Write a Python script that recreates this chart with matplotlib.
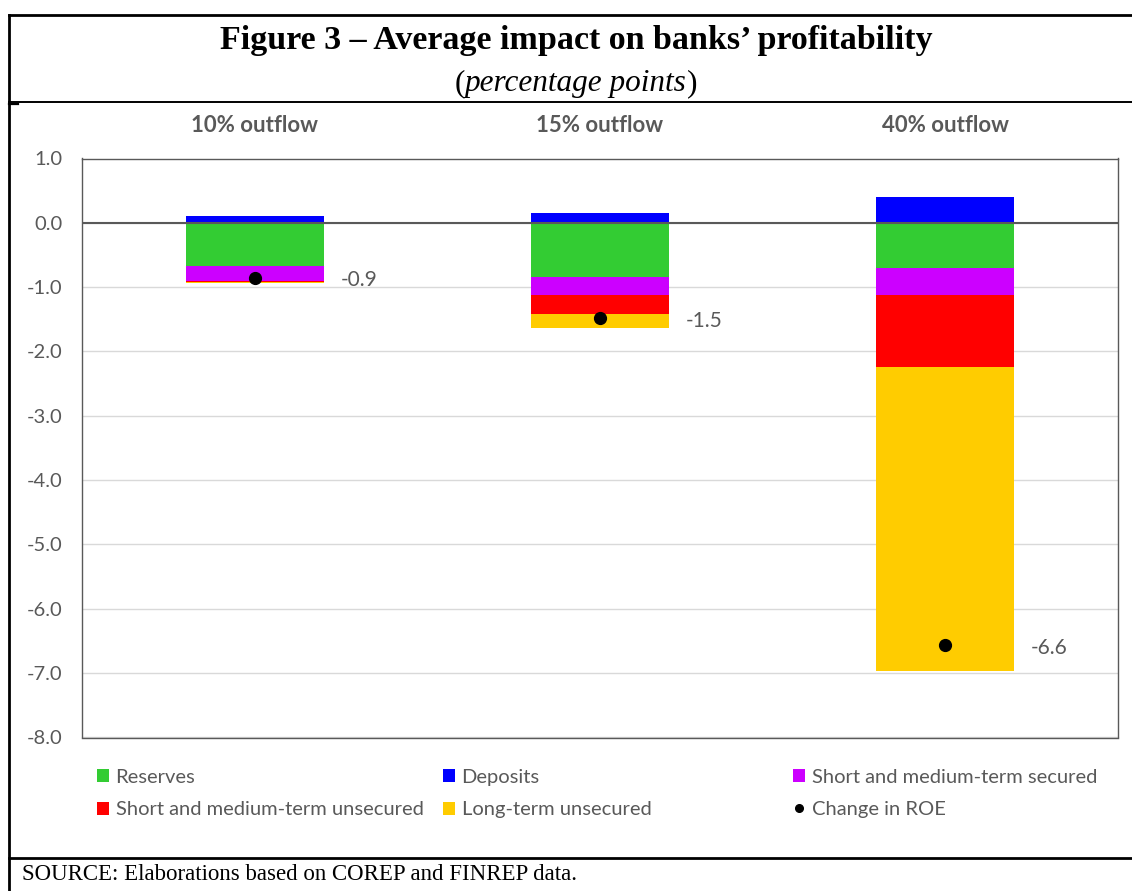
import numpy as np
import matplotlib
matplotlib.use("Agg")
from matplotlib import pyplot as plt
from matplotlib.lines import Line2D

# Data (percentage points)
scenarios = ["10% outflow", "15% outflow", "40% outflow"]
reserves = [-0.67, -0.84, -0.70]
deposits = [0.10, 0.15, 0.40]
sm_secured = [-0.23, -0.28, -0.42]
sm_unsecured = [-0.02, -0.30, -1.12]
lt_unsecured = [-0.02, -0.21, -4.72]
roe_change = [-0.85, -1.48, -6.56]
roe_labels = ["-0.9", "-1.5", "-6.6"]

y_ticks = np.arange(-8.0, 1.01, 1.0)

# Styling
W, H = 1132, 891
grey = "#595959"
sans = ["Lato", "DejaVu Sans"]
serif = ["Liberation Serif", "DejaVu Serif"]
colors = {
    "Reserves": "#33CC33",
    "Deposits": "#0000FF",
    "Short and medium-term secured": "#CC00FF",
    "Short and medium-term unsecured": "#FF0000",
    "Long-term unsecured": "#FFCC00",
}


def fx(px):
    return px / W


def fy(py):
    return 1 - py / H


fig = plt.figure(figsize=(W / 100, H / 100), dpi=100)
ax = fig.add_axes([fx(82), fy(737.5), fx(1118) - fx(82), fy(158.5) - fy(737.5)])

x = np.arange(len(scenarios))
bar_w = 0.40

# Positive part (deposits) on top of zero
h_dep = ax.bar(x, deposits, bar_w, color=colors["Deposits"], zorder=2)

# Negative parts stacked downward from zero
bottom = np.zeros(len(scenarios))
handles = {"Deposits": h_dep}
for name, vals in [("Reserves", reserves),
                   ("Short and medium-term secured", sm_secured),
                   ("Short and medium-term unsecured", sm_unsecured),
                   ("Long-term unsecured", lt_unsecured)]:
    vals = np.array(vals)
    handles[name] = ax.bar(x, vals, bar_w, bottom=bottom, color=colors[name], zorder=2)
    bottom = bottom + vals

roe_dots, = ax.plot(x, roe_change, "o", color="black", markersize=8.5, zorder=4, linestyle="none")

# value labels next to each bar
for xi, v, lab in zip(x, roe_change, roe_labels):
    ax.annotate(lab, xy=(xi + bar_w / 2, v), xytext=(12, -2), textcoords="offset points",
                ha="left", va="center", fontsize=15, color=grey, family=sans)

# axes formatting
ax.set_xlim(-0.5, len(scenarios) - 0.5)
ax.set_ylim(-8.0, 1.0)
ax.set_yticks(y_ticks)
ax.set_yticklabels([f"{t:.1f}" for t in y_ticks], fontsize=14.5, color=grey, family=sans)
ax.tick_params(axis="y", length=0, pad=14)
ax.set_xticks([])
ax.grid(axis="y", color="#D9D9D9", linewidth=1, zorder=0)
ax.axhline(0, color=grey, linewidth=1.5, zorder=3)
for sp in ax.spines.values():
    sp.set_color(grey)
    sp.set_linewidth(1.0)

# category labels in the header area (y = 125 px)
label_y = 1.0 + (158.5 - 125.5) / (737.5 - 158.5) * 9.0
for xi, name in zip(x, scenarios):
    ax.text(xi, label_y, name, ha="center", va="center", fontsize=16, fontweight="bold",
            color=grey, family=sans, clip_on=False)

# legend, three columns placed separately
leg_cols = [
    [("Reserves", handles["Reserves"]), ("Short and medium-term unsecured", handles["Short and medium-term unsecured"])],
    [("Deposits", handles["Deposits"]), ("Long-term unsecured", handles["Long-term unsecured"])],
    [("Short and medium-term secured", handles["Short and medium-term secured"]), ("Change in ROE", roe_dots)],
]
roe_handle = Line2D([], [], marker="o", color="black", linestyle="none", markersize=5.5)
for col, x0 in zip(leg_cols, [97, 443, 793]):
    hs = [roe_handle if lab == "Change in ROE" else h for lab, h in col]
    labs = [lab for lab, h in col]
    fig.legend(hs, labs, loc="center left", bbox_to_anchor=(fx(x0), fy(793.5)),
               frameon=False, labelcolor=grey, prop={"family": sans, "size": 14.5},
               handlelength=0.62, handleheight=0.62, handletextpad=0.3,
               borderpad=0, borderaxespad=0, labelspacing=0.77)

# title block
title_x = fx(576)
fig.text(title_x, fy(41), "Figure 3 \u2013 Average impact on banks\u2019 profitability",
         ha="center", va="center", fontsize=24.5, fontweight="bold", family=serif)
sub = fig.text(title_x, fy(84), "percentage points", ha="center", va="center",
               fontsize=22.5, style="italic", family=serif)
for ch, xy, ha in [("(", (0, 0), "right"), (")", (1, 0), "left")]:
    paren = plt.Annotation(ch, xy=xy, xycoords=sub, ha=ha, va="bottom",
                           fontsize=22.5, family=serif)
    paren.set_figure(fig)
    fig.texts.append(paren)

fig.text(fx(22), fy(874), "SOURCE: Elaborations based on COREP and FINREP data.",
         ha="left", va="center", fontsize=16.5, family=serif)

# frame lines
frame = [
    ((9, 1132), (15, 15), 2.0),
    ((9, 9), (15, 891), 2.0),
    ((9, 1132), (102, 102), 1.4),
    ((9, 18), (103.5, 103.5), 1.6),
    ((9, 1132), (858, 858), 2.0),
]
for xs, ys, lw in frame:
    fig.add_artist(Line2D([fx(v) for v in xs], [fy(v) for v in ys], color="black",
                          linewidth=lw, transform=fig.transFigure))

fig.savefig("out.png", dpi=100)
